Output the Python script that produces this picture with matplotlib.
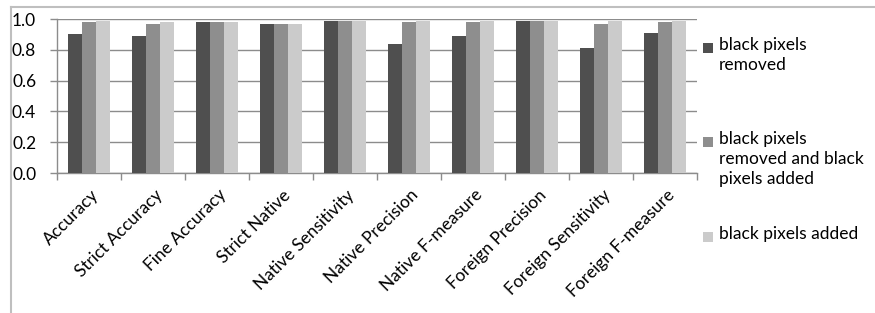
import numpy as np
import matplotlib
matplotlib.use('Agg')
import matplotlib.pyplot as plt
from matplotlib.lines import Line2D
from matplotlib.patches import Rectangle
import matplotlib.transforms as mtransforms

plt.rcParams['font.family'] = ['Lato', 'DejaVu Sans']

categories = ['Accuracy', 'Strict Accuracy', 'Fine Accuracy', 'Strict Native',
              'Native Sensitivity', 'Native Precision', 'Native F-measure',
              'Foreign Precision', 'Foreign Sensitivity', 'Foreign F-measure']
removed = [0.90, 0.89, 0.98, 0.97, 0.99, 0.84, 0.89, 0.99, 0.81, 0.91]
removed_added = [0.98, 0.97, 0.98, 0.97, 0.99, 0.98, 0.98, 0.99, 0.97, 0.98]
added = [0.99, 0.98, 0.98, 0.97, 0.99, 0.99, 0.99, 0.99, 0.99, 0.99]
series_names = ['black pixels\nremoved',
                'black pixels\nremoved and black\npixels added',
                'black pixels added']
colors = ['#4f4f4f', '#8e8e8e', '#cbcbcb']
yticks = [0.0, 0.2, 0.4, 0.6, 0.8, 1.0]

W, H = 875, 313
dpi = 100
fs = 12.5
fig = plt.figure(figsize=(W / dpi, H / dpi), dpi=dpi)
ax = fig.add_axes([57 / W, 1 - 173 / H, 640 / W, 154 / H])

grid_c = '#8c8c8c'
x = np.arange(len(categories))
bw = 0.22
for i, vals in enumerate([removed, removed_added, added]):
    ax.bar(x + (i - 1) * bw, vals, bw, color=colors[i], zorder=3)

ax.set_xlim(-0.5, len(categories) - 0.5)
ax.set_ylim(0, 1.0)
ax.set_yticks(yticks)
ax.set_yticklabels(['%.1f' % v for v in yticks])
ax.yaxis.grid(True, color=grid_c, lw=1, zorder=0)
ax.tick_params(axis='y', length=5, width=1, color=grid_c, pad=10,
               labelsize=fs, labelcolor='black')

ax.set_xticks(x)
ax.set_xticklabels(categories, rotation=45, ha='right', va='center',
                   rotation_mode='anchor', fontsize=fs)
ax.set_xticks(np.arange(-0.5, len(categories)), minor=True)
ax.tick_params(axis='x', which='major', length=0, pad=14)
ax.tick_params(axis='x', which='minor', length=5, width=1, color=grid_c)
off = mtransforms.ScaledTranslation(7 / dpi, 0, fig.dpi_scale_trans)
for lab in ax.get_xticklabels():
    lab.set_transform(lab.get_transform() + off)

for s in ['top', 'right']:
    ax.spines[s].set_visible(False)
for s in ['left', 'bottom']:
    ax.spines[s].set_color(grid_c)
    ax.spines[s].set_linewidth(1)

# legend drawn by hand, one entry per series
leg_y = [48, 142, 237]
for name, c, yc in zip(series_names, colors, leg_y):
    fig.add_artist(Rectangle((703 / W, 1 - (yc + 5) / H), 10 / W, 10 / H,
                             transform=fig.transFigure, color=c, lw=0))
    fig.text(719 / W, 1 - (yc - 11) / H, name, fontsize=fs, va='top', ha='left',
             linespacing=1.3)

# outer chart frame
frame_c = '#bfbfbf'
fig.add_artist(Line2D([10.5 / W, 10.5 / W], [0, 1 - 6.5 / H], color=frame_c, lw=1.5,
                      transform=fig.transFigure))
fig.add_artist(Line2D([10.5 / W, 1], [1 - 6.5 / H, 1 - 6.5 / H], color=frame_c, lw=1.5,
                      transform=fig.transFigure))

fig.savefig('out.png', dpi=dpi)
